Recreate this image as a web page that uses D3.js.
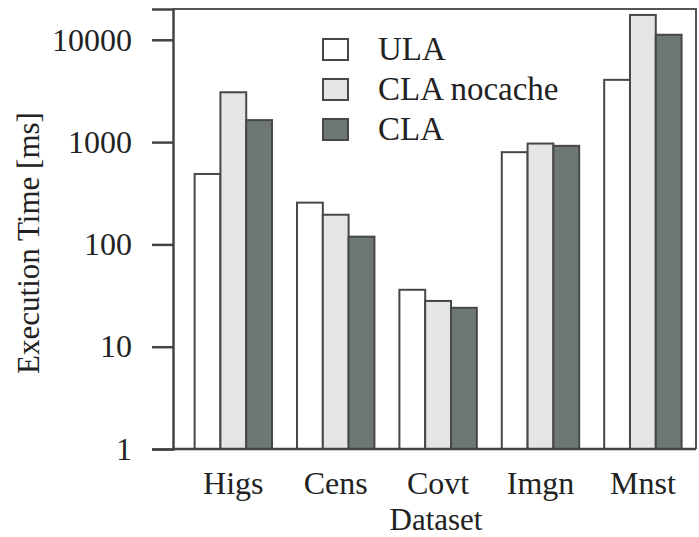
<!DOCTYPE html>
<html>
<head>
<meta charset="utf-8">
<script src="https://cdn.jsdelivr.net/npm/d3@7"></script>
<style>
  html, body { margin: 0; padding: 0; background: #fff; }
  svg { display: block; }
  text { font-family: "Liberation Serif", "Times New Roman", serif; fill: #222; }
</style>
</head>
<body>
<svg id="chart" width="699" height="537"></svg>
<script>
// Execution time per dataset, log scale (ms)
const datasets = ["Higs", "Cens", "Covt", "Imgn", "Mnst"];
const seriesNames = ["ULA", "CLA nocache", "CLA"];
const ulaValues = [488, 256, 36, 797, 4060];
const nocacheValues = [3070, 195, 28, 968, 17500];
const claValues = [1640, 119, 24, 919, 11200];
const yTicks = [1, 10, 100, 1000, 10000];
const fills = ["#ffffff", "#e3e6e5", "#6d7876"];

const series = [ulaValues, nocacheValues, claValues];

const svg = d3.select("#chart");
const plotLeft = 173, plotRight = 696, plotTop = 9, plotBottom = 449;
const stroke = "#474747";

const x = d3.scaleBand()
  .domain(datasets)
  .range([plotLeft, plotRight])
  .paddingInner(0.244)
  .paddingOuter(0.176)
  .align(0.6);

const xs = d3.scaleBand()
  .domain(seriesNames)
  .range([0, x.bandwidth()]);

const y = d3.scaleLog()
  .domain([1, 20000])
  .range([plotBottom, plotTop]);

// bars
const groups = svg.append("g")
  .selectAll("g")
  .data(datasets)
  .join("g")
  .attr("transform", d => `translate(${x(d)},0)`);

groups.selectAll("rect")
  .data((d, i) => seriesNames.map((s, j) => ({ s, j, v: series[j][i] })))
  .join("rect")
  .attr("x", d => xs(d.s))
  .attr("width", xs.bandwidth())
  .attr("y", d => y(d.v))
  .attr("height", d => y(1) - y(d.v))
  .attr("fill", d => fills[d.j])
  .attr("stroke", stroke)
  .attr("stroke-width", 2);

// frame (top and right)
svg.append("path")
  .attr("d", `M${plotLeft},${plotTop}H${plotRight}V${plotBottom}`)
  .attr("fill", "none")
  .attr("stroke", "#555")
  .attr("stroke-width", 2);

// y axis
const yAxis = svg.append("g")
  .attr("transform", `translate(${plotLeft},0)`)
  .call(d3.axisLeft(y).tickValues(yTicks).tickFormat(d3.format("d")).tickSize(21).tickPadding(20));
yAxis.select(".domain").attr("stroke", "#444").attr("stroke-width", 2.5);
yAxis.selectAll(".tick line").attr("stroke", "#444").attr("stroke-width", 2.5);
yAxis.selectAll("text")
  .attr("font-size", 32)
  .attr("font-family", "Liberation Serif, serif")
  .attr("fill", "#222");

// x axis baseline and labels
const xAxis = svg.append("g")
  .attr("transform", `translate(0,${plotBottom})`)
  .call(d3.axisBottom(x).tickSize(0).tickPadding(22));
xAxis.select(".domain").attr("stroke", "#444").attr("stroke-width", 2.5)
  .attr("d", `M${plotLeft},0H${plotRight}`);
xAxis.selectAll("text")
  .attr("font-size", 32)
  .attr("font-family", "Liberation Serif, serif")
  .attr("fill", "#222");

// axis titles
svg.append("text")
  .attr("x", 436)
  .attr("y", 530)
  .attr("text-anchor", "middle")
  .attr("font-size", 31)
  .text("Dataset");

svg.append("text")
  .attr("transform", "translate(39,243) rotate(-90)")
  .attr("text-anchor", "middle")
  .attr("font-size", 31)
  .text("Execution Time [ms]");

// legend
const legend = svg.append("g").attr("transform", "translate(323,39)");
const items = legend.selectAll("g")
  .data(seriesNames)
  .join("g")
  .attr("transform", (d, i) => `translate(0,${i * 40})`);
items.append("rect")
  .attr("width", 25)
  .attr("height", 21)
  .attr("fill", (d, i) => fills[i])
  .attr("stroke", stroke)
  .attr("stroke-width", 2);
items.append("text")
  .attr("x", 55)
  .attr("y", 21)
  .attr("font-size", 33)
  .text(d => d);
</script>
</body>
</html>
